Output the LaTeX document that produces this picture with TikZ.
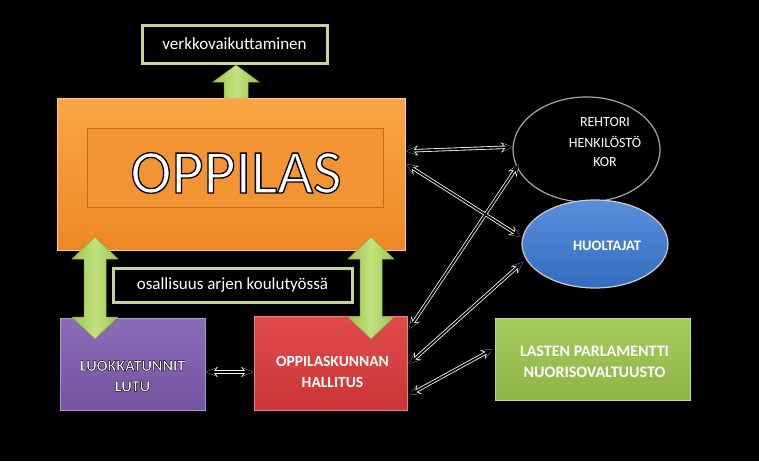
\documentclass[tikz,border=0pt]{standalone}
\usepackage{fontspec}
\setmainfont{Carlito}
\usetikzlibrary{shapes.geometric,arrows.meta}
\newcommand\outltxt[2]{\special{pdf:literal direct 0 0 0 RG 2 Tr #1 w}#2\special{pdf:literal direct 0 Tr}}
\definecolor{orgA}{HTML}{FAA645}
\definecolor{orgB}{HTML}{EE8726}
\definecolor{orgIn}{HTML}{F39434}
\definecolor{purA}{HTML}{8A6CB8}
\definecolor{purB}{HTML}{7554A0}
\definecolor{redA}{HTML}{E24B4B}
\definecolor{redB}{HTML}{C93636}
\definecolor{grnA}{HTML}{A6CB5C}
\definecolor{grnB}{HTML}{8DB446}
\definecolor{bluA}{HTML}{5A8FDA}
\definecolor{bluB}{HTML}{336CC0}
\definecolor{arrG}{HTML}{9CC64E}
\definecolor{arrL}{HTML}{C2E27E}
\definecolor{bordG}{HTML}{C3D69B}
\begin{document}
\begin{tikzpicture}[x=1pt,y=-1pt,
  box/.style={rectangle,inner sep=0pt,outer sep=0pt},
  labelbox/.style={box,fill=black,draw=bordG,line width=3pt,text=white},
  garrow/.style={left color=arrG,right color=arrG,middle color=arrL,draw=arrG!85!black,line width=0.5pt},
  connw/.style={draw=white!90!gray,line width=3.4pt,{Stealth[length=12pt,width=10pt]}-{Stealth[length=12pt,width=10pt]}},
  connb/.style={draw=black,line width=1.7pt,{Stealth[length=10pt,width=7.5pt]}-{Stealth[length=10pt,width=7.5pt]}},
  boldtxt/.style={text=white,font=\bfseries\fontsize{16}{20.5}\selectfont,align=center,inner sep=0pt},
]
\useasboundingbox (0,0) rectangle (759,461);
\fill[black] (0,0) rectangle (759,461);

% boxes
\node[box,minimum width=348pt,minimum height=152pt,top color=orgA,bottom color=orgB,draw=orgA!60!white,line width=0.8pt] (opp) at (231,174) {};
\node[box,minimum width=296pt,minimum height=79pt,fill=orgIn,draw=orgB!80!black,line width=0.7pt] (oppin) at (235,167.5) {};
\node[text=white,font=\fontsize{62}{62}\selectfont,inner sep=0pt] (opptxt) at (236,173) {\outltxt{1.3}{OPPILAS}};

\node[labelbox,minimum width=185pt,minimum height=38pt,font=\fontsize{17}{17}\selectfont] (verkko) at (234.5,44) {verkkovaikuttaminen};
\node[labelbox,minimum width=239pt,minimum height=34pt,font=\fontsize{17}{17}\selectfont] (osal) at (232.5,285) {osallisuus arjen koulutyössä};

\node[box,minimum width=145pt,minimum height=92pt,top color=purA,bottom color=purB,draw=purA!70!white,line width=0.6pt] (luok) at (132.5,364) {};
\node[boldtxt] (luoktxt) at (132.5,376) {\outltxt{0.45}{LUOKKATUNNIT}\\\outltxt{0.45}{LUTU}};

\node[box,minimum width=153pt,minimum height=94pt,top color=redA,bottom color=redB,draw=redA!70!white,line width=0.6pt] (hall) at (330.5,363) {};
\node[boldtxt,font=\bfseries\fontsize{15.5}{20.5}\selectfont] (halltxt) at (332.5,372) {OPPILASKUNNAN\\HALLITUS};

\node[box,minimum width=195pt,minimum height=82pt,top color=grnA,bottom color=grnB,draw=grnA!70!white,line width=0.6pt] (parl) at (592.5,359) {};
\node[boldtxt] (parltxt) at (594.5,362) {LASTEN PARLAMENTTI\\NUORISOVALTUUSTO};

\node[ellipse,inner sep=0pt,minimum width=147pt,minimum height=105pt,fill=black,draw=gray!70,line width=1.2pt] (reh) at (586.5,149.5) {};
\node[text=white,font=\fontsize{14}{20}\selectfont,align=center,inner sep=0pt] (rehtxt) at (605,142.5) {REHTORI\\HENKILÖSTÖ\\KOR};

\node[ellipse,inner sep=0pt,minimum width=146pt,minimum height=88pt,top color=bluA,bottom color=bluB,draw=gray!40,line width=1.2pt] (huol) at (595,244) {};
\node[boldtxt,font=\bfseries\fontsize{14.5}{18}\selectfont] (huoltxt) at (607,246) {HUOLTAJAT};

% green block arrows
\draw[garrow] (236,65) -- (259,82) -- (248,82) -- (248,98) -- (224,98) -- (224,82) -- (213,82) -- cycle;
\draw[garrow] (95,237) -- (118,259) -- (106,259) -- (106,317) -- (118,317) -- (95,339) -- (72,317) -- (84,317) -- (84,259) -- (72,259) -- cycle;
\draw[garrow] (371,237) -- (394,259) -- (382,259) -- (382,317) -- (394,317) -- (371,339) -- (348,317) -- (360,317) -- (360,259) -- (348,259) -- cycle;

% connector end points
\coordinate (o1) at (406,151);
\coordinate (r1) at (513,147);
\coordinate (o2) at (406,164);
\coordinate (h1) at (521,237);
\coordinate (k1) at (409,329);
\coordinate (r2) at (519,164);
\coordinate (k2) at (409,364);
\coordinate (h2) at (523,262);
\coordinate (k3) at (409,395);
\coordinate (p1) at (493,349);
\coordinate (l1) at (206,372);
\coordinate (k4) at (253,372);

\foreach \a/\b in {o1/r1,o2/h1,k1/r2,k2/h2,k3/p1,l1/k4}{
  \draw[connw] (\a) -- (\b);
}
\foreach \a/\b in {o1/r1,o2/h1,k1/r2,k2/h2,k3/p1,l1/k4}{
  \draw[connb] (\a) -- (\b);
}
\end{tikzpicture}
\end{document}
